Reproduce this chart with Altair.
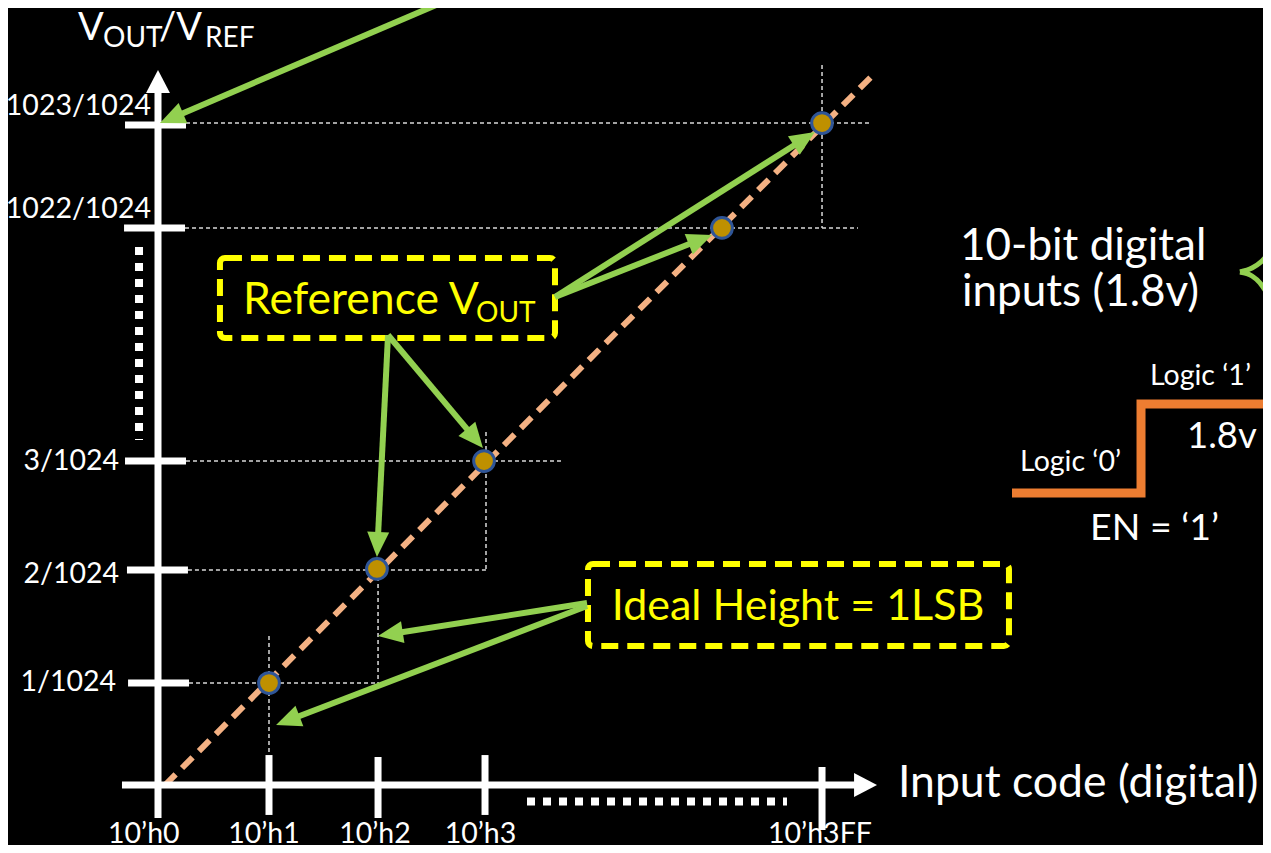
import math
import altair as alt
import pandas as pd

# ---------------------------------------------------------------
# Diagram units: 1 unit = one input-code step (x) / one LSB level (y)
# ---------------------------------------------------------------
X_DOMAIN = [-1.3825, 10.1843]
Y_DOMAIN = [-0.553, 7.1613]
W, H = 1255, 837
PX = W / (X_DOMAIN[1] - X_DOMAIN[0])  # pixels per unit

FONT = "Lato"
WHITE = "#FFFFFF"
GREEN = "#92D050"
YELLOW = "#FFFF00"
ORANGE = "#ED7D31"
SALMON = "#F4B183"
GOLD = "#BF9000"
BLUE = "#2F5597"
GRID = "#D9D9D9"

# ---------------- data ----------------
# reference output points (code position, level position)
point_x = [1.023, 2.018, 3.005, 5.198, 6.120]
point_y = [0.940, 1.991, 2.986, 5.134, 6.101]

# x ticks
xtick_x = [1.023, 2.028, 3.014, 6.120]
xtick_top = [0.276, 0.258, 0.276, 0.166]
xtick_bot = [-0.276, -0.304, -0.276, -0.415]
xlabel_x = [-0.131, 0.977, 2.000, 2.972, 6.101]
xlabel_text = ["10’h0", "10’h1", "10’h2", "10’h3", "10’h3FF"]
XLABEL_BASE = -0.535

# y ticks
ytick_y = [0.940, 1.982, 2.986, 5.134, 6.083]
ytick_x1 = [-0.276, -0.286, -0.304, -0.313, -0.304]
ytick_x2 = [0.286, 0.276, 0.258, 0.249, 0.258]
ylabel_x = [-0.387, -0.359, -0.359, -0.065, -0.065]
ylabel_y = [0.866, 1.862, 2.903, 5.226, 6.175]
ylabel_text = ["1/1024", "2/1024", "3/1024", "1022/1024", "1023/1024"]

# axis lines
axis_x1 = [0.0, -0.332]
axis_y1 = [-0.304, 0.0]
axis_x2 = [0.0, 6.424]
axis_y2 = [6.378, 0.0]
axis_tip_x = [0.0, 6.627]
axis_tip_y = [6.590, 0.0]
axis_tip_angle = [0, 90]

# dashed guide lines
grid_x1 = [0.258, 0.249, 0.258, 0.276, 0.286, 1.023, 2.028, 3.023, 6.120]
grid_y1 = [6.101, 5.134, 2.986, 1.982, 0.940, 1.373, 1.982, 3.253, 6.636]
grid_x2 = [6.581, 6.452, 3.724, 3.023, 2.028, 1.023, 2.028, 3.023, 6.120]
grid_y2 = [6.101, 5.134, 2.986, 1.982, 0.940, 0.276, 0.940, 1.982, 5.134]

# dotted "continuation" marks
dots_x1 = [-0.175, 3.401]
dots_y1 = [4.959, -0.152]
dots_x2 = [-0.175, 5.797]
dots_y2 = [3.180, -0.152]

# ideal transfer line
ideal_x = [0.065, 6.590]
ideal_y = [0.0, 6.544]

# callout boxes
box_x1 = [0.571, 3.963]
box_x2 = [3.659, 7.843]
box_y1 = [4.120, 1.281]
box_y2 = [4.857, 2.037]

# green arrows: start -> tip
arrow_sx = [2.737, 3.659, 3.659, 2.120, 2.120, 3.954, 3.954]
arrow_sy = [7.263, 4.498, 4.498, 4.147, 4.147, 1.677, 1.650]
arrow_tx = [0.018, 6.055, 5.106, 2.018, 2.995, 2.028, 1.088]
arrow_ty = [6.101, 6.018, 5.069, 2.101, 3.106, 1.373, 0.553]

# enable waveform
step_x = [7.871, 9.060, 9.060, 10.258]
step_y = [2.691, 2.691, 3.512, 3.512]

# brace fragment
brace_x = [9.972, 10.083, 10.175, 10.258, 9.972, 10.083, 10.157, 10.212, 10.258]
brace_y = [4.728, 4.765, 4.829, 4.931, 4.728, 4.691, 4.627, 4.544, 4.424]
brace_arm = ["a", "a", "a", "a", "b", "b", "b", "b", "b"]

# free texts (left aligned)
ltext = ["V", "OUT", "/V", "REF", "Reference V", "OUT", "Input code (digital)",
         "10-bit digital", "inputs (1.8v)", "Logic ‘1’", "1.8v", "Logic ‘0’", "EN = ‘1’"]
ltext_x = [-0.737, -0.507, 0.009, 0.433, 0.783, 2.931, 6.820,
           7.392, 7.410, 9.143, 9.484, 7.945, 8.590]
ltext_y = [6.866, 6.802, 6.866, 6.802, 4.341, 4.267, -0.111,
           4.839, 4.415, 3.687, 3.106, 2.894, 2.258]
ltext_size = [38, 28, 38, 28, 44.5, 28, 44.5, 44, 44, 28.5, 36.5, 28.5, 37.5]
ltext_color = [WHITE, WHITE, WHITE, WHITE, YELLOW, YELLOW, WHITE,
               WHITE, WHITE, WHITE, WHITE, WHITE, WHITE]

ideal_text = ["Ideal Height = 1LSB"]
ideal_text_x = [5.899]
ideal_text_y = [1.521]

# ---------------- helpers ----------------
xs = alt.Scale(domain=X_DOMAIN, nice=False, zero=False)
ys = alt.Scale(domain=Y_DOMAIN, nice=False, zero=False)


def X(f="x"):
    return alt.X(f"{f}:Q", scale=xs, axis=None)


def Y(f="y"):
    return alt.Y(f"{f}:Q", scale=ys, axis=None)


def segs(x1, y1, x2, y2):
    return pd.DataFrame({"x": x1, "y": y1, "x2": x2, "y2": y2})


def rule_layer(df, **kw):
    return alt.Chart(df).mark_rule(**kw).encode(
        x=X(), y=Y(), x2="x2:Q", y2="y2:Q")


# solid white axes + ticks
solid = segs(
    axis_x1 + xtick_x + ytick_x1,
    axis_y1 + xtick_top + ytick_y,
    axis_x2 + xtick_x + ytick_x2,
    axis_y2 + xtick_bot + ytick_y,
)
axes = rule_layer(solid, color=WHITE, strokeWidth=7, strokeCap="butt")

grid = rule_layer(segs(grid_x1, grid_y1, grid_x2, grid_y2),
                  color=GRID, strokeWidth=1.5, strokeDash=[4, 3])
dots = rule_layer(segs(dots_x1, dots_y1, dots_x2, dots_y2),
                  color=WHITE, strokeWidth=8, strokeDash=[8, 8], strokeCap="butt")
diag = rule_layer(segs([ideal_x[0]], [ideal_y[0]], [ideal_x[1]], [ideal_y[1]]),
                  color=SALMON, strokeWidth=6, strokeDash=[15, 9], strokeCap="butt")

boxes = alt.Chart(pd.DataFrame({"x": box_x1, "x2": box_x2, "y": box_y1, "y2": box_y2})).mark_rect(
    fillOpacity=0, stroke=YELLOW, strokeWidth=6, strokeDash=[17, 9], cornerRadius=5
).encode(x=X(), x2="x2:Q", y=Y(), y2="y2:Q")

# green arrows
HEAD_L = 25.0
shaft_x2, shaft_y2, head_ang = [], [], []
for sx, sy, tx, ty in zip(arrow_sx, arrow_sy, arrow_tx, arrow_ty):
    du, dv = tx - sx, ty - sy
    n = math.hypot(du, dv)
    back = HEAD_L * 0.7 / PX
    shaft_x2.append(tx - du / n * back)
    shaft_y2.append(ty - dv / n * back)
    head_ang.append(math.degrees(math.atan2(du, dv)) % 360)

shafts = rule_layer(segs(arrow_sx, arrow_sy, shaft_x2, shaft_y2),
                    color=GREEN, strokeWidth=6, strokeCap="butt")
heads = alt.Chart(pd.DataFrame({"x": arrow_tx, "y": arrow_ty, "a": head_ang})).mark_point(
    shape="M0,0L0.44,1L-0.44,1Z", filled=True, color=GREEN, opacity=1,
    size=4 * HEAD_L ** 2, strokeWidth=0
).encode(x=X(), y=Y(), angle=alt.Angle("a:Q", scale=None))

axis_heads = alt.Chart(pd.DataFrame({"x": axis_tip_x, "y": axis_tip_y, "a": axis_tip_angle})).mark_point(
    shape="M0,0L0.52,1L-0.52,1Z", filled=True, color=WHITE, opacity=1,
    size=4 * 23 ** 2, strokeWidth=0
).encode(x=X(), y=Y(), angle=alt.Angle("a:Q", scale=None))

points = alt.Chart(pd.DataFrame({"x": point_x, "y": point_y})).mark_point(
    shape="circle", filled=True, fill=GOLD, stroke=BLUE, strokeWidth=3,
    size=430, opacity=1
).encode(x=X(), y=Y())

step = alt.Chart(pd.DataFrame({"x": step_x, "y": step_y, "o": list(range(len(step_x)))})).mark_line(
    color=ORANGE, strokeWidth=9, strokeJoin="miter", strokeCap="butt"
).encode(x=X(), y=Y(), order="o:Q")

brace = alt.Chart(pd.DataFrame({"x": brace_x, "y": brace_y, "arm": brace_arm})).mark_line(
    color=GREEN, strokeWidth=5, interpolate="monotone"
).encode(x=X(), y=Y(), detail="arm:N")

# texts
ltexts = alt.Chart(pd.DataFrame({"x": ltext_x, "y": ltext_y, "t": ltext,
                                 "s": ltext_size, "c": ltext_color})).mark_text(
    align="left", baseline="alphabetic", font=FONT
).encode(x=X(), y=Y(), text="t:N", size=alt.Size("s:Q", scale=None),
         color=alt.Color("c:N", scale=None))

ylabels = alt.Chart(pd.DataFrame({"x": ylabel_x, "y": ylabel_y, "t": ylabel_text})).mark_text(
    align="right", baseline="alphabetic", font=FONT, fontSize=28.5, color=WHITE
).encode(x=X(), y=Y(), text="t:N")

xlabels = alt.Chart(pd.DataFrame({"x": xlabel_x, "y": [XLABEL_BASE] * len(xlabel_x),
                                  "t": xlabel_text})).mark_text(
    align="center", baseline="alphabetic", font=FONT, fontSize=28.5, color=WHITE
).encode(x=X(), y=Y(), text="t:N")

itext = alt.Chart(pd.DataFrame({"x": ideal_text_x, "y": ideal_text_y, "t": ideal_text})).mark_text(
    align="center", baseline="alphabetic", font=FONT, fontSize=43, color=YELLOW
).encode(x=X(), y=Y(), text="t:N")

chart = alt.layer(
    grid, diag, dots, axes, axis_heads, boxes, step, brace,
    points, shafts, heads, ltexts, ylabels, xlabels, itext
).properties(
    width=W, height=H, padding=0, background="black",
    autosize=alt.AutoSizeParams(type="none")
).configure_view(strokeWidth=0)

chart.save("out.html", embed_options={"renderer": "svg", "actions": False})
